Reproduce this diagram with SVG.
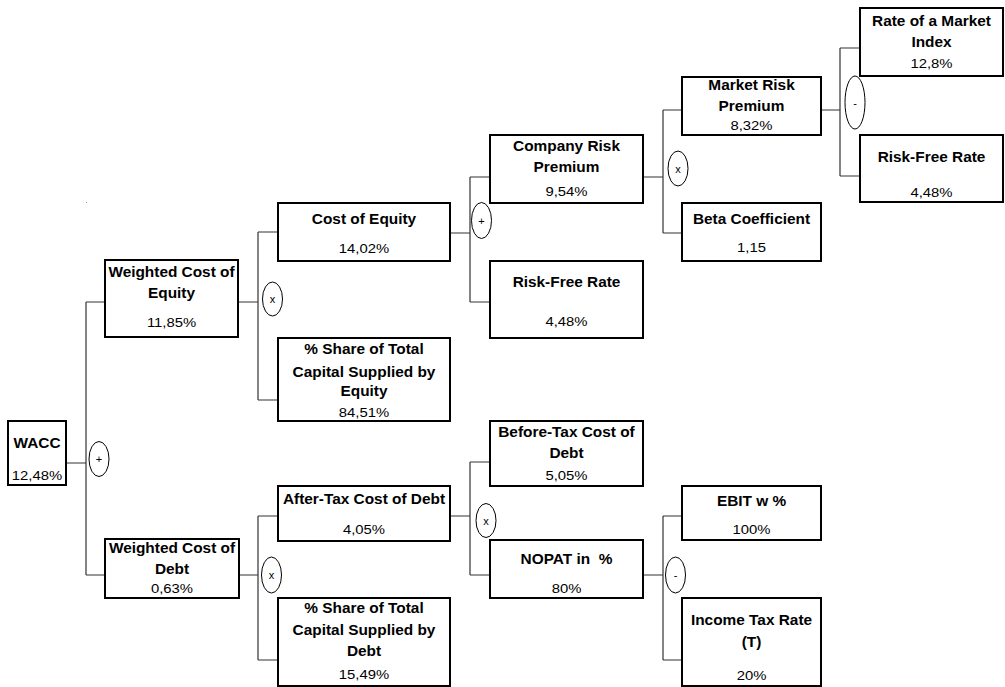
<svg xmlns="http://www.w3.org/2000/svg" width="1005" height="687" viewBox="0 0 1005 687">
<style>
.box{fill:#fff;stroke:#000;stroke-width:2}
.b{font-family:"Liberation Sans",Arial,sans-serif;font-weight:bold;font-size:14px;text-anchor:middle;fill:#000}
.r{font-family:"Liberation Sans",Arial,sans-serif;font-size:13.5px;text-anchor:middle;fill:#000}
.op{fill:#fff;stroke:#000;stroke-width:1}
.ot{font-family:"Liberation Sans",Arial,sans-serif;font-size:11px;text-anchor:middle;fill:#000}
.con{fill:none;stroke:#333;stroke-width:1.2}
</style>
<rect width="1005" height="687" fill="#fff"/>
<rect x="86" y="202" width="1" height="1" fill="#999"/>
<g id="connectors" class="con">
<path d="M66,463H86M86,302V575M86,302H105M86,575H105"/>
<path d="M238,302H258M258,232V400M258,232H278M258,400H278"/>
<path d="M239,575H258M258,516V660M258,516H278M258,660H278"/>
<path d="M450,233H470M470,177V302M470,177H490M470,302H490"/>
<path d="M450,516H470M470,462V575M470,462H490M470,575H490"/>
<path d="M643,177H663M663,110V233M663,110H682M663,233H682"/>
<path d="M643,575H663M663,516V660M663,516H682M663,660H682"/>
<path d="M821,110H840M840,48V176M840,48H860M840,176H860"/>
</g>
<g id="operators">
<g id="op-wacc"><ellipse class="op" cx="99" cy="459" rx="10" ry="17.5"/><text class="ot" x="99" y="463">+</text></g>
<g id="op-wce"><ellipse class="op" cx="272.5" cy="299" rx="10" ry="17"/><text class="ot" x="272.5" y="303">x</text></g>
<g id="op-wcd"><ellipse class="op" cx="271.5" cy="575" rx="10" ry="18"/><text class="ot" x="271.5" y="579">x</text></g>
<g id="op-coe"><ellipse class="op" cx="481.5" cy="220.5" rx="10" ry="18"/><text class="ot" x="481.5" y="224.5">+</text></g>
<g id="op-atcd"><ellipse class="op" cx="486" cy="520.5" rx="10" ry="17"/><text class="ot" x="486" y="524.5">x</text></g>
<g id="op-crp"><ellipse class="op" cx="678" cy="168.5" rx="10" ry="17.5"/><text class="ot" x="678" y="172.5">x</text></g>
<g id="op-nopat"><ellipse class="op" cx="675.5" cy="575" rx="10" ry="18"/><text class="ot" x="675.5" y="579">-</text></g>
<g id="op-mrp"><ellipse class="op" cx="855" cy="102.5" rx="10" ry="26.5"/><text class="ot" x="855" y="106.5">-</text></g>
</g>
<g id="n-wacc"><rect class="box" x="8" y="421" width="58" height="64"/>
<g transform="translate(37 0) scale(1.1 1)"><text class="b" y="448.5">WACC</text><text class="r" y="480">12,48%</text></g></g>
<g id="n-wce"><rect class="box" x="105" y="260" width="133" height="77"/>
<g transform="translate(171.5 0) scale(1.1 1)"><text class="b" y="277">Weighted Cost of</text><text class="b" y="298.5">Equity</text><text class="r" y="327">11,85%</text></g></g>
<g id="n-wcd"><rect class="box" x="105" y="539" width="134" height="59"/>
<g transform="translate(172 0) scale(1.1 1)"><text class="b" y="553.5">Weighted Cost of</text><text class="b" y="574">Debt</text><text class="r" y="593.5">0,63%</text></g></g>
<g id="n-coe"><rect class="box" x="278" y="203" width="172" height="58"/>
<g transform="translate(364 0) scale(1.1 1)"><text class="b" y="224">Cost of Equity</text><text class="r" y="253">14,02%</text></g></g>
<g id="n-share-e"><rect class="box" x="278" y="338" width="172" height="83"/>
<g transform="translate(364 0) scale(1.1 1)"><text class="b" y="354.5">% Share of Total</text><text class="b" y="377">Capital Supplied by</text><text class="b" y="396">Equity</text><text class="r" y="417">84,51%</text></g></g>
<g id="n-atcd"><rect class="box" x="278" y="486" width="172" height="55"/>
<g transform="translate(364 0) scale(1.1 1)"><text class="b" y="504">After-Tax Cost of Debt</text><text class="r" y="534.5">4,05%</text></g></g>
<g id="n-share-d"><rect class="box" x="278" y="598" width="172" height="88"/>
<g transform="translate(364 0) scale(1.1 1)"><text class="b" y="613.5">% Share of Total</text><text class="b" y="635">Capital Supplied by</text><text class="b" y="656">Debt</text><text class="r" y="679.5">15,49%</text></g></g>
<g id="n-crp"><rect class="box" x="490" y="135" width="153" height="68"/>
<g transform="translate(566.5 0) scale(1.1 1)"><text class="b" y="151">Company Risk</text><text class="b" y="172">Premium</text><text class="r" y="196">9,54%</text></g></g>
<g id="n-rfr"><rect class="box" x="490" y="261" width="153" height="77"/>
<g transform="translate(566.5 0) scale(1.1 1)"><text class="b" y="287">Risk-Free Rate</text><text class="r" y="326">4,48%</text></g></g>
<g id="n-btcd"><rect class="box" x="490" y="421" width="153" height="65"/>
<g transform="translate(566.5 0) scale(1.1 1)"><text class="b" y="437">Before-Tax Cost of</text><text class="b" y="458">Debt</text><text class="r" y="480">5,05%</text></g></g>
<g id="n-nopat"><rect class="box" x="490" y="540" width="153" height="58"/>
<g transform="translate(566.5 0) scale(1.1 1)"><text class="b" y="564.5" style="white-space:pre">NOPAT in  %</text><text class="r" y="593.5">80%</text></g></g>
<g id="n-mrp"><rect class="box" x="682" y="77" width="139" height="58"/>
<g transform="translate(751.5 0) scale(1.1 1)"><text class="b" y="90">Market Risk</text><text class="b" y="111">Premium</text><text class="r" y="130">8,32%</text></g></g>
<g id="n-beta"><rect class="box" x="682" y="203" width="139" height="58"/>
<g transform="translate(751.5 0) scale(1.1 1)"><text class="b" y="224">Beta Coefficient</text><text class="r" y="252">1,15</text></g></g>
<g id="n-ebit"><rect class="box" x="682" y="486" width="139" height="54"/>
<g transform="translate(751.5 0) scale(1.1 1)"><text class="b" y="506">EBIT w %</text><text class="r" y="534">100%</text></g></g>
<g id="n-itr"><rect class="box" x="682" y="598" width="139" height="88"/>
<g transform="translate(751.5 0) scale(1.1 1)"><text class="b" y="625">Income Tax Rate</text><text class="b" y="647">(T)</text><text class="r" y="680">20%</text></g></g>
<g id="n-rmi"><rect class="box" x="860" y="8" width="143" height="68"/>
<g transform="translate(931.5 0) scale(1.1 1)"><text class="b" y="26">Rate of a Market</text><text class="b" y="47">Index</text><text class="r" y="68.5">12,8%</text></g></g>
<g id="n-rfr2"><rect class="box" x="860" y="135" width="143" height="67"/>
<g transform="translate(931.5 0) scale(1.1 1)"><text class="b" y="162">Risk-Free Rate</text><text class="r" y="197">4,48%</text></g></g>
</svg>
